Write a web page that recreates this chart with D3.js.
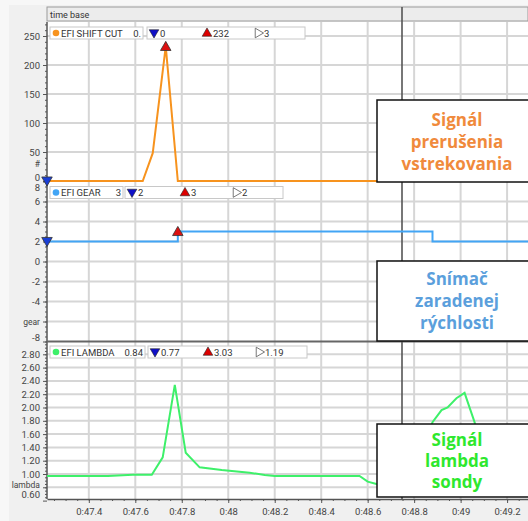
<!DOCTYPE html>
<html><head><meta charset="utf-8">
<script src="https://cdn.jsdelivr.net/npm/d3@7"></script>
<style>body{margin:0;background:#f0f0f0}svg{display:block}</style>
</head><body><svg id="c" width="528" height="521"></svg>
<script>
// Time axis (seconds past 0:47)
const timeTicks = [47.4, 47.6, 47.8, 48, 48.2, 48.4, 48.6, 48.8, 49, 49.2];

// EFI SHIFT CUT channel
const shiftCutTime   = [47.22, 47.632, 47.675, 47.731, 47.783, 49.29];
const shiftCutValues = [0, 0, 48, 232, 0, 0];

// EFI GEAR channel (stepped)
const gearTime   = [47.22, 47.783, 48.879, 49.29];
const gearValues = [2, 3, 2, 2];

// EFI LAMBDA channel
const lambdaTime = [47.22, 47.482, 47.589, 47.671, 47.718, 47.770, 47.817, 47.877, 47.972, 48.092,
  48.157, 48.200, 48.565, 48.600, 48.638, 48.694, 48.759, 48.823, 48.857, 48.879, 48.918, 48.944,
  48.982, 49.017, 49.060, 49.103, 49.168, 49.29];
const lambdaValues = [0.97, 0.97, 0.99, 0.99, 1.25, 2.34, 1.32, 1.10, 1.06, 1.02,
  0.985, 0.97, 0.97, 0.885, 0.85, 0.80, 0.77, 1.20, 1.55, 1.78, 1.96, 2.00,
  2.14, 2.22, 1.78, 1.20, 0.95, 0.92];

// Y ticks per channel
const shiftTicks  = [0, 50, 100, 150, 200, 250];
const gearTicks   = [-8, -6, -4, -2, 0, 2, 4, 6, 8];
const lambdaTicks = [0.6, 0.8, 1.0, 1.2, 1.4, 1.6, 1.8, 2.0, 2.2, 2.4, 2.6, 2.8];

// Legend readouts: [name, current, min, max, cursor]
const shiftLegend  = ["EFI SHIFT CUT", "0.", "0", "232", "3"];
const gearLegend   = ["EFI GEAR", "3", "2", "3", "2"];
const lambdaLegend = ["EFI LAMBDA", "0.84", "0.77", "3.03", "1.19"];

// Callout texts
const shiftNote  = ["Signál", "prerušenia", "vstrekovania"];
const gearNote   = ["Snímač", "zaradenej", "rýchlosti"];
const lambdaNote = ["Signál", "lambda", "sondy"];

const svg = d3.select("#c");
const FONT = "Roboto, 'Liberation Sans', sans-serif";
const L = 47, R = 528, TOP = 22, BOT = 499;

// outer frame shading
svg.append("rect").attr("width", 528).attr("height", 521).attr("fill", "#f0f0f0");
svg.append("rect").attr("width", 528).attr("height", 5).attr("fill", "#f7f7f7");
svg.append("rect").attr("width", 9).attr("height", 521).attr("fill", "#f7f7f7");

// time base strip
svg.append("rect").attr("x", L).attr("y", 7).attr("width", R - L).attr("height", 14)
  .attr("fill", "#ececec").attr("stroke", "#9a9a9a").attr("stroke-width", 1);
svg.append("text").attr("x", L + 3).attr("y", 17.5).text("time base")
  .attr("font-family", FONT).attr("font-size", 9).attr("fill", "#333");

// plot background
svg.append("rect").attr("x", L).attr("y", TOP).attr("width", R - L).attr("height", BOT - TOP).attr("fill", "#fff");

const x = d3.scaleLinear().domain([47.22, 49.29]).range([L, R]);

const panels = [
  {top: TOP, bottom: 181.5, y: d3.scaleLinear().domain([0, 250]).range([181, 36]),
   ticks: shiftTicks, minorStep: 10, unit: "#", unitAt: 167, skip: null, fmt: d => d},
  {top: 181.5, bottom: 341.5, y: d3.scaleLinear().domain([-8, 8]).range([341.5, 181.5]),
   ticks: gearTicks, minorStep: 0.5, unit: "gear", unitAt: 325, skip: -6, fmt: d => d},
  {top: 341.5, bottom: BOT, y: d3.scaleLinear().domain([1.0, 2.8]).range([474, 354.3]),
   ticks: lambdaTicks, minorStep: 0.05, unit: "lambda", unitAt: 487.5, skip: 0.8, fmt: d3.format(".2f")}
];

// vertical grid
svg.append("g").selectAll("line").data(timeTicks).join("line")
  .attr("x1", d => x(d)).attr("x2", d => x(d)).attr("y1", TOP).attr("y2", BOT)
  .attr("stroke", "#d6d6d6").attr("stroke-width", 2);

panels.forEach((p, i) => {
  // horizontal grid
  svg.append("g").selectAll("line").data(p.ticks.filter(t => p.y(t) > p.top + 2 && p.y(t) < p.bottom - 2)).join("line")
    .attr("x1", L).attr("x2", R).attr("y1", d => p.y(d)).attr("y2", d => p.y(d))
    .attr("stroke", "#d6d6d6").attr("stroke-width", 2);

  // left axis with minor ticks
  const dom = p.y.invert;
  const lo = Math.min(dom(p.bottom), dom(p.top)), hi = Math.max(dom(p.bottom), dom(p.top));
  const minor = d3.range(Math.ceil(lo / p.minorStep) * p.minorStep, hi, p.minorStep);
  const gm = svg.append("g").attr("transform", `translate(${L},0)`)
    .call(d3.axisLeft(p.y).tickValues(minor).tickSize(2).tickFormat("").tickSizeOuter(0));
  gm.select(".domain").remove();
  gm.selectAll("line").attr("stroke", "#555");

  const ga = svg.append("g").attr("transform", `translate(${L},0)`)
    .call(d3.axisLeft(p.y).tickValues(p.ticks).tickSize(4).tickPadding(3).tickSizeOuter(0)
      .tickFormat(d => (p.skip !== null && Math.abs(d - p.skip) < 1e-9) ? "" : p.fmt(d)));
  ga.select(".domain").remove();
  ga.selectAll("line").attr("stroke", "#555");
  ga.selectAll("text").attr("font-family", FONT).attr("font-size", 9.5).attr("fill", "#444")
    .attr("transform", d => {
      const yy = p.y(d), cl = Math.max(p.top + 6, Math.min(p.bottom - 4.5, yy));
      return `translate(0,${cl - yy})`;
    });
  svg.append("text").attr("x", 40).attr("y", p.unitAt).attr("text-anchor", "end")
    .attr("font-family", FONT).attr("font-size", 8.5).attr("fill", "#444").text(p.unit);

  // clip for the trace
  svg.append("clipPath").attr("id", "clip" + i).append("rect")
    .attr("x", L).attr("y", p.top - 1).attr("width", R - L).attr("height", p.bottom - p.top + 2);
});

// axis lines
svg.append("line").attr("x1", L).attr("x2", L).attr("y1", TOP).attr("y2", BOT).attr("stroke", "#555").attr("stroke-width", 1.5);
svg.append("line").attr("x1", L).attr("x2", R).attr("y1", 341.5).attr("y2", 341.5).attr("stroke", "#666").attr("stroke-width", 2);

// cursor
svg.append("line").attr("x1", 402).attr("x2", 402).attr("y1", 7).attr("y2", BOT).attr("stroke", "#555").attr("stroke-width", 1.6);

// bottom time axis
const minorT = d3.range(47.25, 49.29, 0.05);
const gbm = svg.append("g").attr("transform", `translate(0,${BOT})`)
  .call(d3.axisBottom(x).tickValues(minorT).tickSize(2).tickFormat("").tickSizeOuter(0));
gbm.select(".domain").remove();
gbm.selectAll("line").attr("stroke", "#555");
const gb = svg.append("g").attr("transform", `translate(0,${BOT})`)
  .call(d3.axisBottom(x).tickValues(timeTicks).tickSize(4).tickPadding(5).tickSizeOuter(0)
    .tickFormat(d => "0:" + d3.format("")(+d.toFixed(1))));
gb.select(".domain").attr("stroke", "#555").attr("stroke-width", 1.5);
gb.selectAll("line").attr("stroke", "#555");
gb.selectAll("text").attr("font-family", FONT).attr("font-size", 9.5).attr("fill", "#444");

// traces
const line1 = d3.line().x(d => x(d[0])).y(d => panels[0].y(d[1]));
svg.append("path").attr("clip-path", "url(#clip0)")
  .attr("d", line1(d3.zip(shiftCutTime, shiftCutValues)))
  .attr("fill", "none").attr("stroke", "#f7931e").attr("stroke-width", 2);

const line2 = d3.line().curve(d3.curveStepAfter).x(d => x(d[0])).y(d => panels[1].y(d[1]));
svg.append("path").attr("clip-path", "url(#clip1)")
  .attr("d", line2(d3.zip(gearTime, gearValues)))
  .attr("fill", "none").attr("stroke", "#42a5f5").attr("stroke-width", 2);

const line3 = d3.line().x(d => x(d[0])).y(d => panels[2].y(d[1]));
svg.append("path").attr("clip-path", "url(#clip2)")
  .attr("d", line3(d3.zip(lambdaTime, lambdaValues)))
  .attr("fill", "none").attr("stroke", "#3ef06a").attr("stroke-width", 2);

// min / max markers on traces
const tri = d3.symbol().type(d3.symbolTriangle).size(48);
function marker(cx, cy, dir, fill) {
  svg.append("path").attr("d", tri()).attr("transform", `translate(${cx},${cy}) rotate(${dir})`)
    .attr("fill", fill).attr("stroke", "#333").attr("stroke-width", 0.8);
}
function minMarker(t, v, y) { marker(x(t), y(v) - 1, 180, "#1a3fd6"); }
function maxMarker(t, v, y) { marker(x(t), y(v) + 1, 0, "#dd1111"); }
const iMax1 = d3.maxIndex(shiftCutValues);
minMarker(shiftCutTime[0], shiftCutValues[0], panels[0].y);
maxMarker(shiftCutTime[iMax1], shiftCutValues[iMax1], panels[0].y);
const iMax2 = d3.maxIndex(gearValues);
minMarker(gearTime[0], gearValues[0], panels[1].y);
maxMarker(gearTime[iMax2], gearValues[iMax2], panels[1].y);

// legend boxes
function legend(y0, w1, x2, w2, color, vals) {
  const g = svg.append("g").attr("font-family", FONT).attr("font-size", 9.5).attr("fill", "#333");
  g.append("rect").attr("x", 50).attr("y", y0).attr("width", w1).attr("height", 12)
    .attr("fill", "#fff").attr("stroke", "#c8c8c8");
  g.append("circle").attr("cx", 56).attr("cy", y0 + 6).attr("r", 3.3).attr("fill", color);
  g.append("text").attr("x", 61).attr("y", y0 + 9.5).text(vals[0]);
  g.append("text").attr("x", 50 + w1 - 2).attr("y", y0 + 9.5).attr("text-anchor", "end").text(vals[1]);
  g.append("rect").attr("x", x2).attr("y", y0).attr("width", w2).attr("height", 12)
    .attr("fill", "#fff").attr("stroke", "#c8c8c8");
  const s = d3.symbol().type(d3.symbolTriangle).size(40)();
  g.append("path").attr("d", s).attr("transform", `translate(${x2 + 7},${y0 + 5.5}) rotate(180)`)
    .attr("fill", "#1010c8").attr("stroke", "#222").attr("stroke-width", 0.6);
  g.append("text").attr("x", x2 + 13).attr("y", y0 + 9.5).text(vals[2]);
  g.append("path").attr("d", s).attr("transform", `translate(${x2 + 60},${y0 + 6.5})`)
    .attr("fill", "#dd0000").attr("stroke", "#222").attr("stroke-width", 0.6);
  g.append("text").attr("x", x2 + 66).attr("y", y0 + 9.5).text(vals[3]);
  g.append("path").attr("d", s).attr("transform", `translate(${x2 + 111},${y0 + 6}) rotate(90)`)
    .attr("fill", "#fff").attr("stroke", "#555").attr("stroke-width", 0.8);
  g.append("text").attr("x", x2 + 117).attr("y", y0 + 9.5).text(vals[4]);
}
legend(27, 93, 147, 158, "#f7931e", shiftLegend);
legend(186.5, 73, 125, 158, "#42a5f5", gearLegend);
legend(346, 95, 148, 159, "#3ef06a", lambdaLegend);

// callout boxes
function note(y0, h, color, lines, firstY, gap) {
  svg.append("rect").attr("x", 377).attr("y", y0).attr("width", 152).attr("height", h)
    .attr("fill", "#fff").attr("stroke", "#111").attr("stroke-width", 1.5);
  svg.append("g").selectAll("text").data(lines).join("text")
    .attr("x", 457).attr("y", (d, i) => firstY + i * gap).attr("text-anchor", "middle")
    .attr("font-family", "'Open Sans', sans-serif").attr("font-weight", 700).attr("font-size", 17)
    .attr("fill", color).text(d => d);
}
note(100, 82, "#f08a3c", shiftNote, 126, 22);
note(261, 80, "#5b9fdc", gearNote, 285, 22);
note(424, 73, "#2ee82e", lambdaNote, 446, 21);
</script>
</body></html>
